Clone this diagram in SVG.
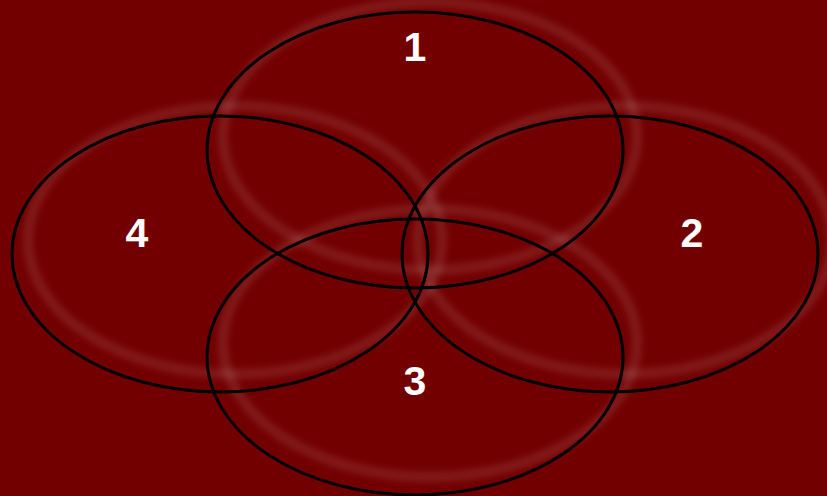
<svg xmlns="http://www.w3.org/2000/svg" width="827" height="496" viewBox="0 0 827 496">
<defs>
<filter id="blur" x="-20%" y="-20%" width="140%" height="140%"><feGaussianBlur stdDeviation="3"/></filter>
</defs>
<style>
.glow{fill:none;stroke:#ffffff;stroke-opacity:0.1;stroke-width:10;filter:url(#blur)}
.ring{fill:none;stroke:#000000;stroke-width:3}
.lbl{font-family:"Liberation Sans",Arial,sans-serif;font-weight:bold;font-size:41px;fill:#ffffff;text-anchor:middle}
</style>
<rect width="827" height="496" fill="#730000"/>
<g id="glows">
<ellipse class="glow" cx="430" cy="136" rx="207" ry="134"/>
<ellipse class="glow" cx="625" cy="240" rx="207" ry="134"/>
<ellipse class="glow" cx="235" cy="240" rx="207" ry="134"/>
<ellipse class="glow" cx="430" cy="343" rx="207" ry="134"/>
</g>
<g id="node1"><ellipse class="ring" cx="415" cy="150" rx="208" ry="138"/><text class="lbl" x="415" y="61">1</text></g>
<g id="node2"><ellipse class="ring" cx="610" cy="254" rx="208" ry="138"/><text class="lbl" x="692" y="247">2</text></g>
<g id="node4"><ellipse class="ring" cx="220" cy="254" rx="208" ry="138"/><text class="lbl" x="137" y="247">4</text></g>
<g id="node3"><ellipse class="ring" cx="415" cy="357" rx="208" ry="138"/><text class="lbl" x="415" y="395">3</text></g>
<g id="connectors"/>
</svg>
